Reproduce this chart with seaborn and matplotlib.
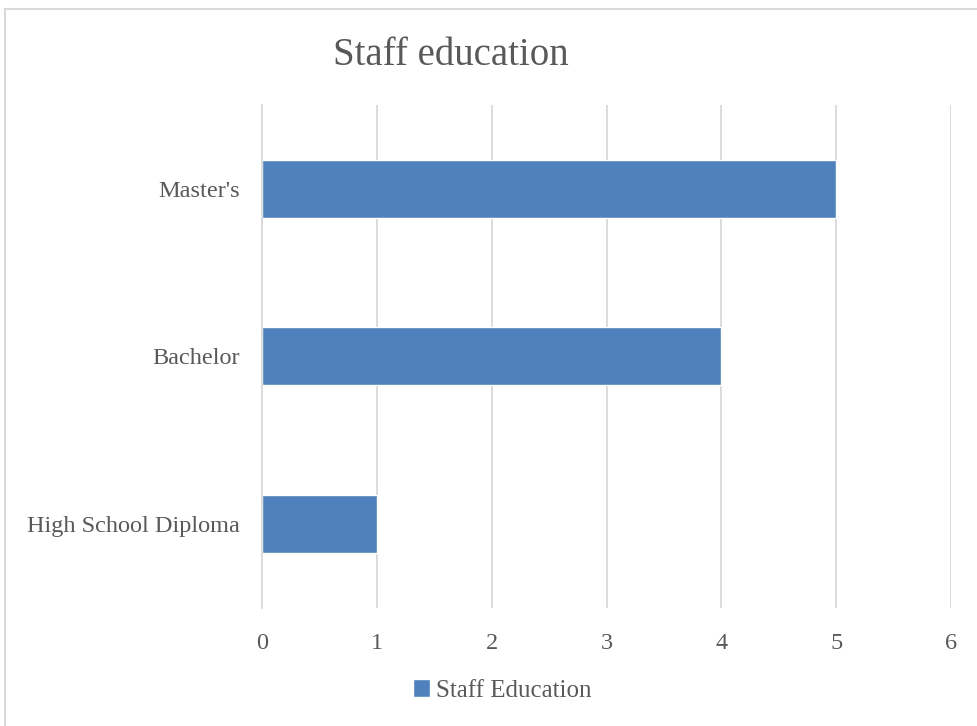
import pandas as pd
import matplotlib.pyplot as plt
import seaborn as sns
from matplotlib.patches import Rectangle

# 数据
categories = ["Master's", "Bachelor", "High School Diploma"]
counts = [5, 4, 1]
series_name = "Staff Education"
x_ticks = [0, 1, 2, 3, 4, 5, 6]

df = pd.DataFrame({"level": categories, "count": counts})

sns.set_style("white")
plt.rcParams['font.family'] = ['Liberation Serif', 'DejaVu Serif']

grey_text = '#595959'
grid_col = '#d9d9d9'
bar_col = '#4f81bd'

fig = plt.figure(figsize=(9.77, 7.26), dpi=100)
ax = fig.add_axes([0.2682, 0.1625, 0.7052, 0.693])

sns.barplot(data=df, x="count", y="level", order=categories, color=bar_col,
            width=0.346, saturation=1, ax=ax, label=series_name)

ax.set_xlim(0, 6)
ax.set_xticks(x_ticks)
ax.xaxis.grid(True, color=grid_col, linewidth=1.3)
ax.set_axisbelow(True)
for s in ['top', 'right', 'bottom']:
    ax.spines[s].set_visible(False)
ax.spines['left'].set_color(grid_col)
ax.spines['left'].set_linewidth(1.3)
ax.set_xlabel('')
ax.set_ylabel('')
ax.tick_params(axis='x', length=0, labelsize=17.5, colors=grey_text, pad=18)
ax.tick_params(axis='y', length=0, labelsize=17.5, colors=grey_text, pad=16)
if ax.get_legend() is not None:
    ax.get_legend().remove()

fig.text(0.462, 0.923, "Staff education", ha='center', va='center',
         fontsize=28, color=grey_text)

handles, labels = ax.get_legend_handles_labels()
fig.legend(handles[:1], labels[:1], loc='center', bbox_to_anchor=(0.514, 0.049),
           frameon=False, fontsize=18, labelcolor=grey_text, handlelength=0.7,
           handleheight=0.7, handletextpad=0.25)

# 外框
fig.patches.append(Rectangle((5 / 977, -0.05), 1.1, 1 - 9 / 726 + 0.05,
                             transform=fig.transFigure, fill=False,
                             edgecolor=grid_col, linewidth=1.5))

fig.savefig('out.png', dpi=100)
